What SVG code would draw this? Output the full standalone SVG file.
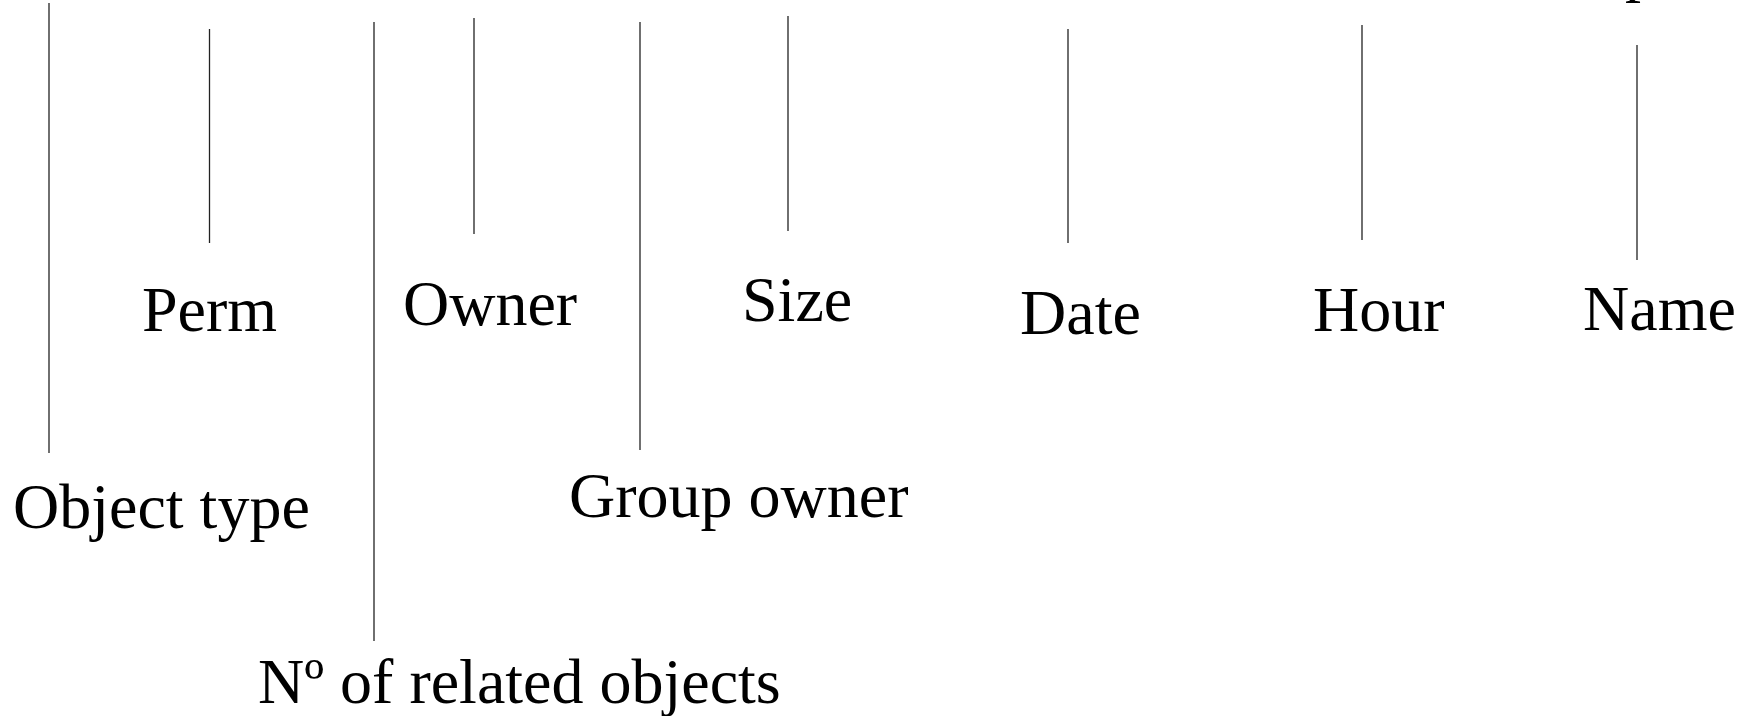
<svg xmlns="http://www.w3.org/2000/svg" width="1748" height="716" viewBox="0 0 1748 716">
<style>
  .lbl { font-family: "Liberation Serif", "Times New Roman", serif; font-size: 64px; fill: #000; }
  .ln { stroke: #222; stroke-width: 1.3; fill: none; }
</style>
<rect width="1748" height="716" fill="#fff"/>
<g id="connectors">
  <line class="ln" x1="49" y1="3" x2="49" y2="453"/>
  <line class="ln" x1="209.5" y1="29" x2="209.5" y2="243"/>
  <line class="ln" x1="374" y1="22" x2="374" y2="641"/>
  <line class="ln" x1="474" y1="18" x2="474" y2="234"/>
  <line class="ln" x1="640" y1="22" x2="640" y2="450"/>
  <line class="ln" x1="788" y1="16" x2="788" y2="231"/>
  <line class="ln" x1="1068" y1="29" x2="1068" y2="243"/>
  <line class="ln" x1="1362" y1="25" x2="1362" y2="240"/>
  <line class="ln" x1="1637" y1="45" x2="1637" y2="260"/>
</g>
<g id="cut-title"><text class="lbl" x="1625" y="-11">p</text></g>
<g id="object-type"><text class="lbl" x="13" y="528">Object type</text></g>
<g id="perm"><text class="lbl" x="142" y="331">Perm</text></g>
<g id="related"><text class="lbl" x="258" y="703">Nº of related objects</text></g>
<g id="owner"><text class="lbl" x="403" y="325">Owner</text></g>
<g id="group-owner"><text class="lbl" x="569" y="517">Group owner</text></g>
<g id="size"><text class="lbl" x="742" y="321">Size</text></g>
<g id="date"><text class="lbl" x="1020" y="334">Date</text></g>
<g id="hour"><text class="lbl" x="1313" y="331">Hour</text></g>
<g id="name"><text class="lbl" x="1583" y="330">Name</text></g>
</svg>
